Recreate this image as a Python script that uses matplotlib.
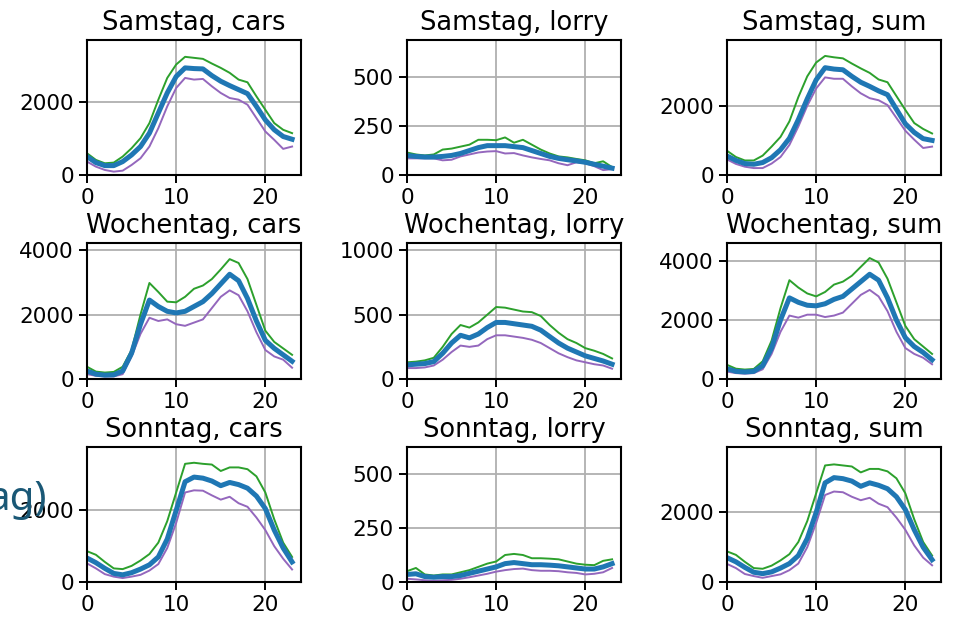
import matplotlib
matplotlib.use("Agg")
import matplotlib.pyplot as plt
import numpy as np

hours = list(range(24))
days = ["Samstag", "Wochentag", "Sonntag"]
kinds = ["cars", "lorry", "sum"]

# Samstag
sa_cars_mid = [505, 340, 257, 257, 367, 550, 780, 1147, 1700, 2250, 2700, 2936, 2917, 2908, 2725, 2570, 2450, 2340, 2230, 1880, 1510, 1240, 1055, 980]
sa_cars_hi = [596, 413, 321, 340, 505, 734, 1009, 1422, 2064, 2660, 3028, 3239, 3211, 3183, 3055, 2936, 2800, 2615, 2541, 2156, 1789, 1422, 1239, 1147]
sa_cars_lo = [367, 229, 138, 92, 119, 275, 459, 780, 1284, 1881, 2385, 2660, 2615, 2633, 2431, 2248, 2110, 2064, 1927, 1560, 1193, 963, 716, 780]

sa_lorry_mid = [100, 95, 92, 92, 95, 100, 110, 125, 140, 150, 150, 150, 145, 140, 125, 110, 95, 85, 78, 72, 65, 55, 45, 35]
sa_lorry_hi = [115, 105, 100, 105, 130, 135, 145, 155, 180, 180, 178, 192, 165, 180, 155, 130, 110, 95, 90, 82, 75, 60, 70, 40]
sa_lorry_lo = [85, 85, 85, 85, 75, 78, 95, 105, 115, 120, 122, 110, 112, 100, 90, 82, 75, 60, 50, 65, 60, 45, 25, 30]

sa_sum_mid = [550, 420, 330, 310, 360, 500, 730, 1060, 1600, 2200, 2750, 3100, 3060, 3040, 2850, 2680, 2560, 2430, 2320, 1900, 1480, 1230, 1050, 1000]
sa_sum_hi = [700, 520, 420, 420, 560, 820, 1100, 1550, 2250, 2850, 3250, 3440, 3400, 3370, 3220, 3080, 2950, 2760, 2680, 2280, 1880, 1500, 1330, 1200]
sa_sum_lo = [450, 320, 240, 200, 200, 330, 520, 870, 1400, 2000, 2500, 2820, 2780, 2780, 2560, 2360, 2220, 2160, 2020, 1650, 1280, 1020, 780, 820]

# Wochentag
wo_cars_mid = [250, 150, 120, 130, 250, 800, 1700, 2450, 2250, 2100, 2050, 2100, 2250, 2400, 2650, 2950, 3250, 3050, 2500, 1800, 1200, 950, 750, 550]
wo_cars_hi = [380, 230, 200, 220, 380, 900, 2000, 2980, 2700, 2400, 2380, 2550, 2800, 2900, 3100, 3400, 3720, 3600, 3100, 2300, 1500, 1150, 950, 750]
wo_cars_lo = [150, 100, 80, 80, 150, 700, 1400, 1900, 1800, 1850, 1700, 1650, 1750, 1850, 2200, 2550, 2750, 2600, 2100, 1450, 900, 700, 600, 350]

wo_lorry_mid = [110, 115, 120, 135, 200, 280, 340, 320, 350, 400, 440, 440, 430, 420, 410, 380, 330, 280, 240, 210, 180, 160, 140, 115]
wo_lorry_hi = [130, 135, 145, 165, 250, 350, 420, 400, 440, 500, 560, 555, 540, 525, 520, 490, 420, 360, 310, 280, 240, 220, 195, 160]
wo_lorry_lo = [85, 85, 90, 105, 150, 210, 260, 250, 260, 310, 340, 340, 330, 320, 305, 280, 240, 200, 170, 145, 130, 115, 105, 80]

wo_sum_mid = [350, 260, 240, 260, 450, 1050, 2000, 2750, 2600, 2500, 2480, 2550, 2700, 2800, 3050, 3300, 3550, 3350, 2750, 2000, 1400, 1100, 900, 650]
wo_sum_hi = [480, 350, 320, 340, 600, 1300, 2400, 3350, 3100, 2900, 2800, 2950, 3200, 3300, 3500, 3800, 4100, 3950, 3400, 2600, 1800, 1350, 1100, 850]
wo_sum_lo = [250, 200, 180, 200, 330, 850, 1600, 2150, 2080, 2180, 2180, 2100, 2150, 2250, 2550, 2850, 3020, 2800, 2300, 1600, 1050, 850, 720, 500]

# Sonntag
so_cars_mid = [670, 540, 380, 240, 200, 260, 360, 480, 700, 1200, 2000, 2800, 2930, 2900, 2820, 2690, 2780, 2720, 2620, 2400, 2050, 1450, 950, 560]
so_cars_hi = [860, 760, 560, 380, 360, 450, 600, 780, 1100, 1700, 2500, 3300, 3330, 3300, 3280, 3100, 3200, 3200, 3150, 2950, 2500, 1750, 1100, 700]
so_cars_lo = [520, 380, 220, 150, 110, 150, 200, 320, 500, 950, 1650, 2500, 2560, 2550, 2420, 2300, 2380, 2200, 2100, 1800, 1450, 1000, 650, 350]

so_lorry_mid = [35, 38, 25, 22, 25, 25, 30, 40, 50, 60, 70, 85, 90, 85, 80, 80, 78, 75, 70, 65, 60, 60, 70, 85]
so_lorry_hi = [50, 65, 35, 30, 35, 35, 45, 55, 70, 85, 95, 125, 130, 125, 110, 110, 108, 105, 95, 85, 80, 78, 98, 105]
so_lorry_lo = [15, 12, 8, 5, 8, 10, 15, 22, 30, 38, 48, 55, 60, 62, 55, 52, 52, 50, 45, 42, 35, 38, 45, 65]

so_sum_mid = [700, 580, 420, 280, 240, 290, 400, 530, 760, 1250, 2000, 2850, 3000, 2970, 2900, 2750, 2850, 2780, 2680, 2450, 2080, 1500, 1000, 640]
so_sum_hi = [880, 780, 580, 400, 380, 470, 620, 800, 1150, 1750, 2550, 3350, 3380, 3350, 3320, 3150, 3250, 3250, 3180, 2980, 2550, 1800, 1150, 760]
so_sum_lo = [520, 400, 230, 170, 120, 170, 220, 340, 530, 1000, 1700, 2500, 2600, 2580, 2450, 2350, 2420, 2250, 2150, 1850, 1500, 1050, 700, 480]

series = [
    [(sa_cars_mid, sa_cars_hi, sa_cars_lo), (sa_lorry_mid, sa_lorry_hi, sa_lorry_lo), (sa_sum_mid, sa_sum_hi, sa_sum_lo)],
    [(wo_cars_mid, wo_cars_hi, wo_cars_lo), (wo_lorry_mid, wo_lorry_hi, wo_lorry_lo), (wo_sum_mid, wo_sum_hi, wo_sum_lo)],
    [(so_cars_mid, so_cars_hi, so_cars_lo), (so_lorry_mid, so_lorry_hi, so_lorry_lo), (so_sum_mid, so_sum_hi, so_sum_lo)],
]

ylims = [[3700, 690, 3900], [4220, 1058, 4610], [3770, 625, 3880]]
yticks = [[[0, 2000], [0, 250, 500], [0, 2000]],
          [[0, 2000, 4000], [0, 500, 1000], [0, 2000, 4000]],
          [[0, 2000], [0, 250, 500], [0, 2000]]]

plt.rcParams.update({
    "font.family": "DejaVu Sans",
    "font.size": 15.5,
    "axes.titlesize": 18.5,
    "axes.linewidth": 1.5,
    "xtick.major.size": 5.5,
    "ytick.major.size": 5.5,
    "xtick.major.width": 1.4,
    "ytick.major.width": 1.4,
})

W, H = 955, 618
fig = plt.figure(figsize=(9.55, 6.18), dpi=100)

lefts = [87, 407, 727]
tops = [40, 243, 447]
bottoms = [175, 379, 582]
width = 214

for r in range(3):
    for c in range(3):
        ax = fig.add_axes([lefts[c] / W, 1 - bottoms[r] / H, width / W, (bottoms[r] - tops[r]) / H])
        mid, hi, lo = series[r][c]
        ax.plot(hours, hi, color="#2ca02c", lw=1.4)
        ax.plot(hours, lo, color="#9467bd", lw=1.4)
        ax.plot(hours, mid, color="#1f77b4", lw=3.6)
        ax.set_xlim(0, 24)
        ax.set_ylim(0, ylims[r][c])
        ax.set_xticks([0, 10, 20])
        ax.set_yticks(yticks[r][c])
        ax.grid(True, color="#b0b0b0", lw=1.3)
        ax.set_axisbelow(True)
        ax.set_title(f"{days[r]}, {kinds[c]}", pad=7)
        ax.tick_params(pad=4)

fig.text(47 / W, 1 - 510 / H, "ag)", color="#1a5876", fontsize=29,
         family="Noto Sans", weight="medium", ha="right", va="baseline")

fig.savefig("out.png", dpi=100)
